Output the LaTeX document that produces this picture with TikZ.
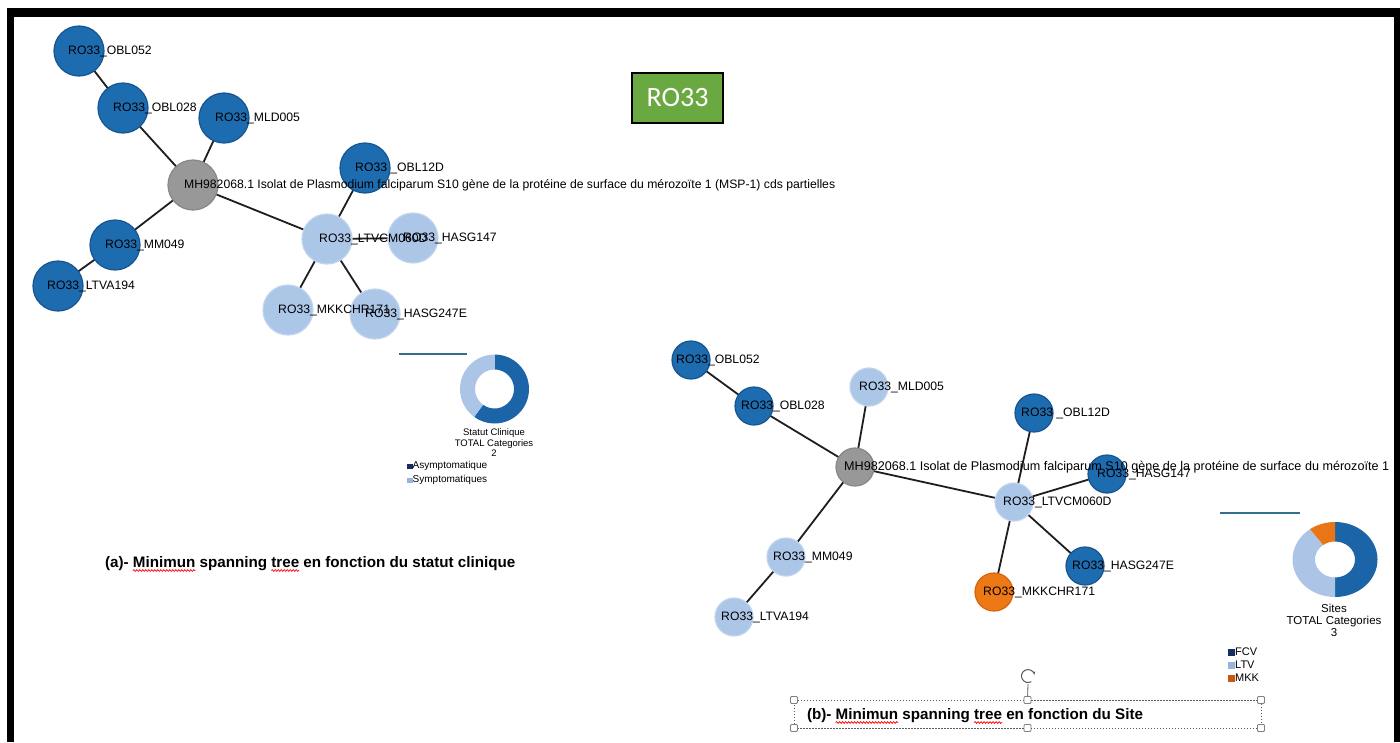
\documentclass[tikz,border=0pt]{standalone}
\usepackage{fontspec}
\setmainfont{Liberation Sans}
\newfontfamily\carl{Carlito}
\usetikzlibrary{decorations.pathmorphing,arrows.meta,calc}
\pgfdeclarelayer{paper}
\pgfdeclarelayer{edges}
\pgfsetlayers{paper,edges,main}
\definecolor{dkfill}{RGB}{30,108,176}
\definecolor{dkbord}{RGB}{22,84,145}
\definecolor{ltfill}{RGB}{172,198,232}
\definecolor{ltbord}{RGB}{192,212,238}
\definecolor{gyfill}{RGB}{152,152,152}
\definecolor{gybord}{RGB}{135,135,135}
\definecolor{orfill}{RGB}{236,120,22}
\definecolor{orbord}{RGB}{215,100,12}
\definecolor{navy}{RGB}{22,45,95}
\definecolor{legl}{RGB}{150,180,220}
\definecolor{lego}{RGB}{205,85,20}
\definecolor{ringdk}{RGB}{28,100,168}
\definecolor{ringlt}{RGB}{172,197,230}
\definecolor{ringor}{RGB}{232,118,22}
\definecolor{teal}{RGB}{50,112,142}
\definecolor{hdrgreen}{RGB}{106,168,66}
\definecolor{edgec}{RGB}{30,30,30}
\newcommand\labfont{\fontsize{12.2}{14}\selectfont}
\newcommand\ttlfont{\bfseries\fontsize{15.2}{18}\selectfont}
\newcommand\ringseg[9]{\fill[#9] ($(#1,#2)+(#7:#3 and #4)$) arc[start angle=#7,end angle=#8,x radius=#3,y radius=#4] -- ($(#1,#2)+(#8:#5 and #6)$) arc[start angle=#8,end angle=#7,x radius=#5,y radius=#6] -- cycle;}
\begin{document}
\begin{tikzpicture}[x=1pt,y=-1pt,
  nd/.style={circle,inner sep=0pt,line width=1.2pt},
  na/.style={nd,minimum size=50pt},
  nb/.style={nd,minimum size=38pt},
  dk/.style={fill=dkfill,draw=dkbord},
  lt/.style={fill=ltfill,draw=ltbord},
  gy/.style={fill=gyfill,draw=gybord},
  org/.style={fill=orfill,draw=orbord},
  lab/.style={anchor=west,inner sep=0pt,font=\labfont},
  edge/.style={draw=edgec,line width=1.8pt},
  ttl/.style={anchor=base west,inner sep=0pt,outer sep=0pt,font=\ttlfont},
  wavy/.style={draw=red,line width=0.7pt,decorate,decoration={snake,amplitude=0.9pt,segment length=3pt}},
  handle/.style={draw=gray,fill=white,rounded corners=1pt,minimum size=7pt,inner sep=0pt,line width=0.8pt},
  selbox/.style={draw=gray!70!black,line width=0.8pt,dash pattern=on 1.5pt off 1.5pt},
  captext/.style={align=center,inner sep=0pt},
  legtext/.style={anchor=west,inner sep=0pt}
]
\useasboundingbox (0,0) rectangle (1400,742);
\begin{pgfonlayer}{paper}
\fill[white] (0,0) rectangle (1400,742);
\end{pgfonlayer}

% ---------- graph (a)
\node[na,dk] (aOBL052) at (79,51) {};
\node[na,dk] (aOBL028) at (123,108) {};
\node[na,dk] (aMLD005) at (224,118) {};
\node[na,gy] (aMH) at (193,185) {};
\node[na,dk] (aMM049) at (115,245) {};
\node[na,dk] (aLTVA194) at (58,286) {};
\node[na,dk] (aOBL12D) at (365,168) {};
\node[na,lt] (aLTVCM) at (327,239) {};
\node[na,lt] (aHASG147) at (413,238) {};
\node[na,lt] (aMKK) at (288,310) {};
\node[na,lt] (aHASG247) at (375,314) {};
\begin{pgfonlayer}{edges}
\draw[edge] (aOBL052.center) -- (aOBL028.center) -- (aMH.center);
\draw[edge] (aMLD005.center) -- (aMH.center);
\draw[edge] (aMH.center) -- (aMM049.center) -- (aLTVA194.center);
\draw[edge] (aMH.center) -- (aLTVCM.center);
\draw[edge] (aLTVCM.center) -- (aOBL12D.center);
\draw[edge] (aLTVCM.center) -- (aHASG147.center);
\draw[edge] (aLTVCM.center) -- (aMKK.center);
\draw[edge] (aLTVCM.center) -- (aHASG247.center);
\end{pgfonlayer}
\node[lab,xshift=-11pt] (aOBL052t) at (aOBL052) {RO33\_OBL052};
\node[lab,xshift=-10pt] (aOBL028t) at (aOBL028) {RO33\_OBL028};
\node[lab,xshift=-9pt] (aMLD005t) at (aMLD005) {RO33\_MLD005};
\node[lab,xshift=-10pt] (aMM049t) at (aMM049) {RO33\_MM049};
\node[lab,xshift=-11pt] (aLTVA194t) at (aLTVA194) {RO33\_LTVA194};
\node[lab,xshift=-10pt] (aOBL12Dt) at (aOBL12D) {RO33 \_OBL12D};
\node[lab,xshift=-8pt] (aLTVCMt) at (aLTVCM) {RO33\_LTVCM060D};
\node[lab,xshift=-10pt] (aHASG147t) at (aHASG147) {RO33\_HASG147};
\node[lab,xshift=-10pt] (aMKKt) at (aMKK) {RO33\_MKKCHR171};
\node[lab,xshift=-10pt] (aHASG247t) at (aHASG247) {RO33\_HASG247E};
\node[lab,xshift=-9pt] (aMHt) at (aMH) {MH982068.1 Isolat de Plasmodium falciparum S10 gène de la protéine de surface du mérozoïte 1 (MSP-1) cds partielles};

% donut (a)
\draw[teal,line width=1.5pt] (399,354) -- (467,354);
\ringseg{494.5}{389}{34.5}{34.5}{19.5}{19.5}{-90}{126}{ringdk}
\ringseg{494.5}{389}{34.5}{34.5}{19.5}{19.5}{126}{270}{ringlt}
\node[captext,font=\fontsize{9.5}{10.5}\selectfont] (acap) at (494,443) {Statut Clinique\\TOTAL Categories\\2};
\fill[navy] (407,463.5) rectangle (412.5,468.5);
\node[legtext,font=\fontsize{10}{12}\selectfont] (aleg1) at (412.5,466) {Asymptomatique};
\fill[legl] (407,477.5) rectangle (412.5,482.5);
\node[legtext,font=\fontsize{10}{12}\selectfont] (aleg2) at (412.5,480) {Symptomatiques};

% title (a)
\node[ttl] (ta1) at (105,567) {(a)-\ \null};
\node[ttl] (ta2) at (ta1.base east) {Minimun};
\node[ttl] (ta3) at (ta2.base east) {\ spanning\ \null};
\node[ttl] (ta4) at (ta3.base east) {tree};
\node[ttl] (ta5) at (ta4.base east) {\ en fonction du statut clinique};
\draw[wavy] ([yshift=-3.5pt]ta2.base west) -- ([yshift=-3.5pt]ta2.base east);
\draw[wavy] ([yshift=-3.5pt]ta4.base west) -- ([yshift=-3.5pt]ta4.base east);

% header
\node[fill=hdrgreen,draw=black,line width=1.5pt,minimum width=91pt,minimum height=50pt,text=white,font=\carl\fontsize{28}{30}\selectfont,inner sep=0pt] (hdr) at (677.5,98) {RO33};

% ---------- graph (b)
\node[nb,dk] (bOBL052) at (691,360) {};
\node[nb,dk] (bOBL028) at (754,406) {};
\node[nb,lt] (bMLD005) at (869,387) {};
\node[nb,gy] (bMH) at (855,467) {};
\node[nb,dk] (bOBL12D) at (1034,413) {};
\node[nb,dk] (bHASG147) at (1107,474) {};
\node[nb,lt] (bLTVCM) at (1014,502) {};
\node[nb,dk] (bHASG247) at (1085,566) {};
\node[nb,org] (bMKK) at (994,592) {};
\node[nb,lt] (bMM049) at (786,557) {};
\node[nb,lt] (bLTVA194) at (734,617) {};
\begin{pgfonlayer}{edges}
\draw[edge] (bOBL052.center) -- (bOBL028.center) -- (bMH.center);
\draw[edge] (bMLD005.center) -- (bMH.center);
\draw[edge] (bMH.center) -- (bMM049.center) -- (bLTVA194.center);
\draw[edge] (bMH.center) -- (bLTVCM.center);
\draw[edge] (bLTVCM.center) -- (bOBL12D.center);
\draw[edge] (bLTVCM.center) -- (bHASG147.center);
\draw[edge] (bLTVCM.center) -- (bMKK.center);
\draw[edge] (bLTVCM.center) -- (bHASG247.center);
\end{pgfonlayer}
\node[lab,xshift=-15pt] (bOBL052t) at (bOBL052) {RO33\_OBL052};
\node[lab,xshift=-13pt] (bOBL028t) at (bOBL028) {RO33\_OBL028};
\node[lab,xshift=-10pt] (bMLD005t) at (bMLD005) {RO33\_MLD005};
\node[lab,xshift=-13pt] (bOBL12Dt) at (bOBL12D) {RO33 \_OBL12D};
\node[lab,xshift=-10pt] (bHASG147t) at (bHASG147) {RO33\_HASG147};
\node[lab,xshift=-11pt] (bLTVCMt) at (bLTVCM) {RO33\_LTVCM060D};
\node[lab,xshift=-13pt] (bHASG247t) at (bHASG247) {RO33\_HASG247E};
\node[lab,xshift=-11pt] (bMKKt) at (bMKK) {RO33\_MKKCHR171};
\node[lab,xshift=-13pt] (bMM049t) at (bMM049) {RO33\_MM049};
\node[lab,xshift=-13pt] (bLTVA194t) at (bLTVA194) {RO33\_LTVA194};
\node[lab,xshift=-11pt,font=\fontsize{12.6}{14}\selectfont] (bMHt) at (bMH) {MH982068.1 Isolat de Plasmodium falciparum S10 gène de la protéine de surface du mérozoïte 1};

% donut (b)
\draw[teal,line width=1.5pt] (1220,513) -- (1300,513);
\ringseg{1335}{559.5}{42.5}{37.5}{20}{18}{-90}{90}{ringdk}
\ringseg{1335}{559.5}{42.5}{37.5}{20}{18}{90}{234}{ringlt}
\ringseg{1335}{559.5}{42.5}{37.5}{20}{18}{234}{270}{ringor}
\node[captext,font=\fontsize{11.5}{12}\selectfont] (bcap) at (1334,620) {Sites\\TOTAL Categories\\3};
\fill[navy] (1228,648.5) rectangle (1235,655.5);
\node[legtext,font=\fontsize{11}{12}\selectfont] (bleg1) at (1235,652) {FCV};
\fill[legl] (1228,661.5) rectangle (1235,668.5);
\node[legtext,font=\fontsize{11}{12}\selectfont] (bleg2) at (1235,665) {LTV};
\fill[lego] (1228,674.5) rectangle (1235,681.5);
\node[legtext,font=\fontsize{11}{12}\selectfont] (bleg3) at (1235,678) {MKK};

% selection box + title (b)
\node[handle] (h1) at (794,700) {};
\node[handle] (h2) at (1027.5,700) {};
\node[handle] (h3) at (1261,700) {};
\node[handle] (h4) at (794,728) {};
\node[handle] (h5) at (1027.5,728) {};
\node[handle] (h6) at (1261,728) {};
\draw[selbox] (h1) -- (h2) -- (h3) -- (h6) -- (h5) -- (h4) -- (h1);
\coordinate (rot) at (1028,676);
\draw[gray!70!black,line width=0.8pt] (h2) -- (1028,684);
\draw[gray!70!black,line width=1pt,-{Stealth[length=3.5pt]}] ($(rot)+(60:6.5)$) arc[start angle=60,end angle=350,radius=6.5];
\node[ttl] (tb1) at (807,719) {(b)-\ \null};
\node[ttl] (tb2) at (tb1.base east) {Minimun};
\node[ttl] (tb3) at (tb2.base east) {\ spanning\ \null};
\node[ttl] (tb4) at (tb3.base east) {tree};
\node[ttl] (tb5) at (tb4.base east) {\ en fonction du Site};
\draw[wavy] ([yshift=-3.5pt]tb2.base west) -- ([yshift=-3.5pt]tb2.base east);
\draw[wavy] ([yshift=-3.5pt]tb4.base west) -- ([yshift=-3.5pt]tb4.base east);

% frame
\fill[black] (7,8) rectangle (14,742);
\fill[black] (7,8) rectangle (1400,16.5);
\fill[black] (1394,8) rectangle (1400,742);
\end{tikzpicture}
\end{document}
